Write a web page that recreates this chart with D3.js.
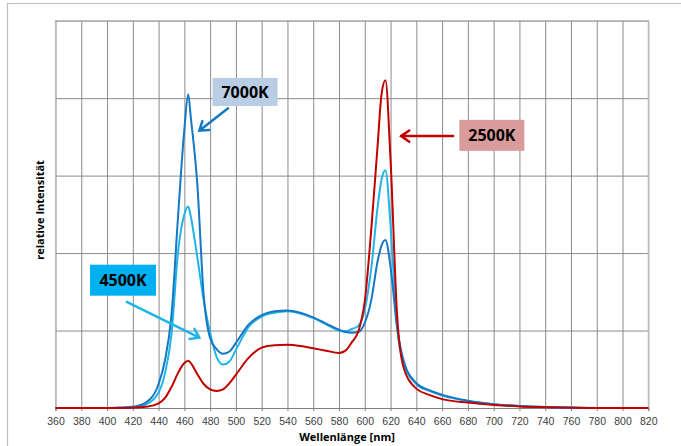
<!DOCTYPE html>
<html>
<head>
<meta charset="utf-8">
<script src="https://cdn.jsdelivr.net/npm/d3@7"></script>
<style>
  body { margin: 0; background: #fff; }
  svg { display: block; }
  .grid line { stroke: #8c8c8c; stroke-width: 1; }
  .grid path { display: none; }
  .xaxis text { font-family: "Liberation Sans", Arial, sans-serif; font-size: 10.5px; fill: #404040; }
  .title { font-family: "Open Sans", sans-serif; font-weight: bold; fill: #000; }
  .tag { font-family: "Open Sans", sans-serif; font-weight: bold; font-size: 16px; fill: #000; }
</style>
</head>
<body>
<div id="chart"></div>
<script>
  "use strict";
  // wavelengths [nm] shared by all series
  const wavelengths = [360, 380, 400, 410, 420, 430, 440, 445, 450, 455, 460, 463, 465, 470, 475, 480, 485, 490, 495, 500,
    510, 520, 530, 540, 550, 560, 570, 580, 585, 590, 595, 600, 605, 610, 613, 616, 620, 625, 630, 640,
    650, 660, 680, 700, 720, 740, 760, 780, 800, 820];

  const k7000 = [0, 0, 0, 0.005, 0.015, 0.07, 0.31, 0.62, 1.2, 2.45, 3.6, 4.05, 3.75, 2.9, 1.45, 0.9, 0.76, 0.7, 0.73, 0.84,
    1.08, 1.2, 1.25, 1.26, 1.23, 1.17, 1.09, 1.01, 0.98, 0.97, 0.98, 1.1, 1.39, 1.9, 2.1, 2.17, 1.82, 1.05, 0.62, 0.32,
    0.23, 0.17, 0.095, 0.05, 0.025, 0.012, 0.005, 0, 0, 0];

  const k4500 = [0, 0, 0, 0.003, 0.01, 0.045, 0.2, 0.45, 0.95, 2.0, 2.5, 2.6, 2.47, 1.95, 1.39, 0.97, 0.66, 0.56, 0.6, 0.75,
    1.05, 1.18, 1.23, 1.25, 1.22, 1.16, 1.08, 1.0, 0.99, 1.02, 1.06, 1.27, 1.8, 2.6, 2.95, 3.07, 2.35, 1.05, 0.58, 0.31,
    0.22, 0.16, 0.09, 0.05, 0.025, 0.012, 0.005, 0, 0, 0];

  const k2500 = [0, 0, 0, 0, 0.003, 0.015, 0.06, 0.13, 0.27, 0.45, 0.58, 0.61, 0.58, 0.44, 0.31, 0.24, 0.22, 0.24, 0.32, 0.43,
    0.65, 0.78, 0.81, 0.815, 0.8, 0.77, 0.74, 0.71, 0.74, 0.85, 0.99, 1.38, 2.3, 3.4, 4.05, 4.23, 3.2, 1.22, 0.53, 0.25,
    0.17, 0.115, 0.07, 0.04, 0.02, 0.01, 0.003, 0, 0, 0];

  const xTicks = d3.range(360, 821, 20);
  const yTicks = [0, 1, 2, 3, 4, 5];

  // label text, box centre and arrow (from -> tip) in data units
  const tagNames = ["7000K", "2500K", "4500K"];
  const tagBox = [[507.1, 4.08], [698.6, 3.52], [412.4, 1.65]];
  const tagArrow = [[[493.9, 3.87], [471.6, 3.58]], [[668.5, 3.51], [628.1, 3.51]], [[415.3, 1.37], [471.6, 0.91]]];

  const W = 681, H = 446;
  const margin = { left: 55.5, right: 681 - 648.3, top: 20.7, bottom: 446 - 408 };

  const x = d3.scaleLinear().domain([360, 820]).range([margin.left, W - margin.right]);
  const y = d3.scaleLinear().domain([0, 5]).range([H - margin.bottom, margin.top]);

  const svg = d3.select("#chart").append("svg").attr("width", W).attr("height", H);

  // outer chart frame (runs off the picture at right and bottom)
  svg.append("path")
    .attr("d", `M7.5,${H + 2}V3.5H${W + 2}`)
    .attr("fill", "none")
    .attr("stroke", "#bfbfbf")
    .attr("stroke-width", 1.2);

  // gridlines
  svg.append("g")
    .attr("class", "grid")
    .attr("transform", `translate(0,${y(0)})`)
    .call(d3.axisBottom(x).tickValues(xTicks).tickSize(-(y(0) - y(5))).tickFormat(""));
  svg.append("g")
    .attr("class", "grid")
    .attr("transform", `translate(${x(360)},0)`)
    .call(d3.axisLeft(y).tickValues(yTicks).tickSize(-(x(820) - x(360))).tickFormat(""));

  // plot border (light) on top/left/right
  svg.append("path")
    .attr("d", `M${x(360)},${y(0)}V${y(5)}H${x(820)}V${y(0)}`)
    .attr("fill", "none")
    .attr("stroke", "#bdbdbd")
    .attr("stroke-width", 1.2);

  // x axis: baseline, small ticks, labels
  const xa = svg.append("g")
    .attr("class", "xaxis")
    .attr("transform", `translate(0,${y(0)})`)
    .call(d3.axisBottom(x).tickValues(xTicks).tickSize(3).tickPadding(6.5).tickFormat(d3.format("d")));
  xa.select(".domain").attr("stroke", "#808080");
  xa.selectAll(".tick line").attr("stroke", "#808080");

  // axis titles
  svg.append("text")
    .attr("class", "title")
    .attr("x", 347).attr("y", 440.5)
    .attr("text-anchor", "middle")
    .attr("font-size", 11)
    .text("Wellenlänge [nm]");
  svg.append("text")
    .attr("class", "title")
    .attr("transform", "translate(43.5,210) rotate(-90)")
    .attr("text-anchor", "middle")
    .attr("font-size", 11)
    .text("relative Intensität");

  // spectra
  const line = d3.line()
    .x((d, i) => x(wavelengths[i]))
    .y((d) => y(d))
    .curve(d3.curveMonotoneX);

  const series = [
    { name: "4500K", values: k4500, color: "#1fb4ea" },
    { name: "7000K", values: k7000, color: "#1478c2" },
    { name: "2500K", values: k2500, color: "#c00000" },
  ];

  svg.append("g")
    .selectAll("path")
    .data(series)
    .enter()
    .append("path")
    .attr("fill", "none")
    .attr("stroke", (d) => d.color)
    .attr("stroke-width", 2)
    .attr("stroke-linejoin", "round")
    .attr("d", (d) => line(d.values));

  // annotation boxes and arrows
  const tagFill = ["#b9cde5", "#da9c9b", "#00b0f0"];
  const arrowColor = ["#1478c2", "#c00000", "#1fb4ea"];
  const tagSize = [[65, 28], [65, 31], [66, 31]];

  const tags = svg.append("g");
  tagNames.forEach((name, i) => {
    const cx = x(tagBox[i][0]), cy = y(tagBox[i][1]);
    const [bw, bh] = tagSize[i];
    const g = tags.append("g");
    g.append("rect")
      .attr("x", cx - bw / 2).attr("y", cy - bh / 2)
      .attr("width", bw).attr("height", bh)
      .attr("fill", tagFill[i]);
    g.append("text")
      .attr("class", "tag")
      .attr("x", cx).attr("y", cy + 6)
      .attr("text-anchor", "middle")
      .text(name);

    const [from, to] = tagArrow[i];
    const x1 = x(from[0]), y1 = y(from[1]), x2 = x(to[0]), y2 = y(to[1]);
    const ang = Math.atan2(y2 - y1, x2 - x1);
    const len = 10, spread = 0.6;
    const h1 = [x2 - len * Math.cos(ang - spread), y2 - len * Math.sin(ang - spread)];
    const h2 = [x2 - len * Math.cos(ang + spread), y2 - len * Math.sin(ang + spread)];
    g.append("path")
      .attr("d", `M${x1},${y1}L${x2},${y2}M${h1[0]},${h1[1]}L${x2},${y2}L${h2[0]},${h2[1]}`)
      .attr("fill", "none")
      .attr("stroke", arrowColor[i])
      .attr("stroke-width", 2.5)
      .attr("stroke-linecap", "round")
      .attr("stroke-linejoin", "miter");
  });
</script>
</body>
</html>
